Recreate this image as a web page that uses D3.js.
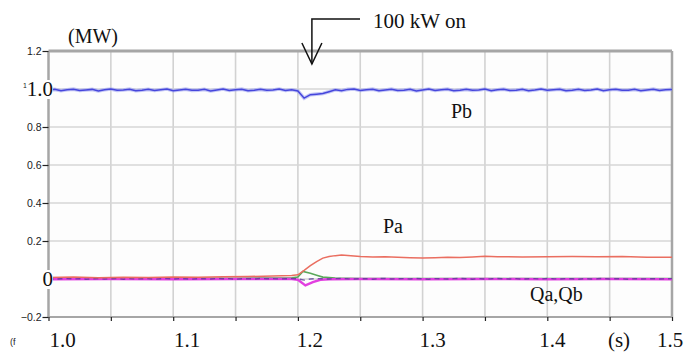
<!DOCTYPE html>
<html>
<head>
<meta charset="utf-8">
<script src="https://cdn.jsdelivr.net/npm/d3@7"></script>
<style>
  html, body { margin: 0; padding: 0; background: #fff; }
  svg { display: block; }
</style>
</head>
<body>
<svg id="chart" width="684" height="354"></svg>
<script>
// Sampling instants (s) for the densely sampled traces
const tSamples = d3.range(101).map(i => +(1 + i * 0.005).toFixed(3));

// Pb (MW), phase b active power, sampled every 5 ms
const pbValues = [
  0.994, 0.998, 0.991, 0.996, 0.999, 0.992, 0.995, 0.998, 0.990, 0.996,
  1.000, 0.993, 0.995, 0.999, 0.991, 0.994, 0.998, 0.992, 0.996, 1.000,
  0.991, 0.995, 0.999, 0.993, 0.994, 0.998, 0.990, 0.995, 1.000, 0.992,
  0.996, 0.999, 0.991, 0.994, 0.998, 0.993, 0.995, 1.000, 0.992, 0.996,
  0.990, 0.952, 0.970, 0.973, 0.976, 0.986, 0.996, 0.991, 0.998, 1.000,
  0.992, 0.996, 0.999, 0.991, 0.995, 0.999, 0.992, 0.994, 0.998, 0.990,
  0.995, 1.000, 0.992, 0.996, 0.999, 0.991, 0.994, 0.998, 0.993, 0.995,
  1.000, 0.991, 0.996, 0.999, 0.992, 0.994, 0.998, 0.991, 0.995, 1.000,
  0.993, 0.996, 0.999, 0.991, 0.994, 0.998, 0.992, 0.995, 1.000, 0.991,
  0.996, 0.999, 0.993, 0.994, 0.998, 0.991, 0.995, 0.999, 0.992, 0.996,
  0.998
];

// Background reactive trace near zero, sampled every 5 ms
const q0Values = [
  0.002, -0.001, 0.001, 0.003, 0.000, 0.002, -0.001, 0.001, 0.002, 0.000,
  0.001, 0.003, -0.001, 0.002, 0.000, 0.001, 0.002, -0.001, 0.001, 0.003,
  0.000, 0.002, 0.001, -0.001, 0.002, 0.001, 0.000, 0.003, 0.001, 0.002,
  -0.001, 0.001, 0.002, 0.000, 0.003, 0.001, 0.002, 0.000, 0.001, 0.002,
  0.001, -0.006, 0.000, 0.002, 0.001, 0.000, 0.002, 0.003, 0.001, 0.000,
  0.002, 0.001, -0.001, 0.002, 0.003, 0.000, 0.001, 0.002, 0.000, 0.003,
  0.001, -0.001, 0.002, 0.001, 0.000, 0.002, 0.003, 0.001, -0.001, 0.002,
  0.000, 0.001, 0.003, 0.001, 0.000, 0.002, -0.001, 0.001, 0.002, 0.000,
  0.003, 0.001, 0.000, 0.002, 0.001, -0.001, 0.002, 0.000, 0.001, 0.003,
  0.000, 0.002, 0.001, -0.001, 0.002, 0.000, 0.001, 0.002, 0.000, 0.001,
  0.002
];

// Pa (MW), phase a active power: time / value pairs
const paTimes  = [1.000, 1.020, 1.040, 1.060, 1.080, 1.100, 1.120, 1.140, 1.160, 1.180, 1.195, 1.200,
                  1.205, 1.210, 1.215, 1.220, 1.225, 1.230, 1.235, 1.240, 1.250, 1.260, 1.270, 1.280,
                  1.290, 1.300, 1.310, 1.320, 1.330, 1.340, 1.350, 1.360, 1.380, 1.400, 1.420, 1.440,
                  1.460, 1.480, 1.500];
const paValues = [0.008, 0.010, 0.007, 0.009, 0.008, 0.010, 0.009, 0.012, 0.013, 0.016, 0.018, 0.022,
                  0.045, 0.070, 0.092, 0.110, 0.118, 0.123, 0.126, 0.124, 0.118, 0.116, 0.117, 0.114,
                  0.112, 0.110, 0.112, 0.114, 0.113, 0.116, 0.120, 0.117, 0.116, 0.117, 0.118, 0.117,
                  0.119, 0.115, 0.114];

// Qa (Mvar): time / value pairs
const qaTimes  = [1.000, 1.050, 1.100, 1.150, 1.195, 1.200, 1.204, 1.210, 1.215, 1.220, 1.230, 1.250,
                  1.300, 1.350, 1.400, 1.450, 1.500];
const qaValues = [0.004, 0.003, 0.005, 0.004, 0.006, 0.010, 0.040, 0.030, 0.020, 0.010, 0.005, 0.003,
                  0.002, 0.003, 0.002, 0.003, 0.002];

// Qb (Mvar): time / value pairs
const qbTimes  = [1.000, 1.050, 1.100, 1.150, 1.195, 1.200, 1.206, 1.212, 1.218, 1.225, 1.250, 1.300,
                  1.350, 1.400, 1.450, 1.500];
const qbValues = [-0.001, 0.000, -0.001, 0.000, 0.000, -0.004, -0.034, -0.016, -0.004, -0.001, 0.000,
                  -0.001, 0.000, -0.001, 0.000, -0.001];

// Axis ticks and labels
const xGridTicks   = [1.00, 1.05, 1.10, 1.15, 1.20, 1.25, 1.30, 1.35, 1.40, 1.45, 1.50];
const xLabelTicks  = [1.0, 1.1, 1.2, 1.3, 1.4, 1.5];
const yGridTicks   = [1.2, 1.0, 0.8, 0.6, 0.4, 0.2, 0.0, -0.2];
const ySmallTicks  = [1.2, 0.8, 0.6, 0.4, 0.2, -0.2];
const yLargeTicks  = [1.0, 0];
const stepTime     = 1.2;

const SERIF = "'Liberation Serif', 'DejaVu Serif', 'Times New Roman', serif";
const SANS = "'Liberation Sans', Arial, sans-serif";

const svg = d3.select("#chart");
const plotL = 48.5, plotR = 672, plotT = 51, plotB = 317;

const x = d3.scaleLinear().domain([1.0, 1.5]).range([plotL, plotR]);
const y = d3.scaleLinear().domain([-0.2, 1.2]).range([plotB, plotT]);

const serifText = (sel, size) => sel.style("font-family", SERIF).attr("font-size", size).attr("fill", "#111");

// Plot background
svg.append("rect")
  .attr("x", plotL).attr("y", plotT)
  .attr("width", plotR - plotL).attr("height", plotB - plotT)
  .attr("fill", "#fdfdfd");

// Grid
const grid = svg.append("g");
grid.selectAll("line.v").data(xGridTicks.slice(1, -1)).join("line")
  .attr("x1", d => x(d)).attr("x2", d => x(d))
  .attr("y1", plotT).attr("y2", plotB)
  .attr("stroke", "#d2d2d2").attr("stroke-width", 1.6);
grid.selectAll("line.h").data(yGridTicks.slice(1, -1)).join("line")
  .attr("x1", plotL).attr("x2", plotR)
  .attr("y1", d => y(d)).attr("y2", d => y(d))
  .attr("stroke", "#d6d6d6").attr("stroke-width", 1.6);

// Frame
const frame = svg.append("g").attr("stroke", "#a6a6a6").attr("fill", "none");
frame.append("line").attr("x1", plotL).attr("x2", plotR).attr("y1", plotT).attr("y2", plotT).attr("stroke-width", 3);
frame.append("line").attr("x1", plotL).attr("x2", plotR).attr("y1", plotB).attr("y2", plotB).attr("stroke-width", 2);
frame.append("line").attr("x1", plotL).attr("x2", plotL).attr("y1", plotT).attr("y2", plotB).attr("stroke-width", 2.5);
frame.append("line").attr("x1", plotR).attr("x2", plotR).attr("y1", plotT).attr("y2", plotB).attr("stroke-width", 2.5);

// Y axis (small labels)
const yAxis = svg.append("g")
  .attr("transform", `translate(${plotL},0)`)
  .call(d3.axisLeft(y).tickValues(ySmallTicks).tickSize(6).tickPadding(1)
        .tickFormat(d => d3.format(".1f")(d)));
yAxis.select(".domain").remove();
yAxis.selectAll(".tick line").attr("stroke", "#222").attr("stroke-width", 1.2);
yAxis.selectAll(".tick text")
  .attr("font-size", 10.5).attr("fill", "#1a1a1a")
  .style("font-family", SANS);

// X axis ticks
const xAxis = svg.append("g")
  .attr("transform", `translate(0,${plotB})`)
  .call(d3.axisBottom(x).tickValues(xGridTicks).tickSize(4).tickFormat(""));
xAxis.select(".domain").remove();
xAxis.selectAll(".tick line").attr("stroke", "#222").attr("stroke-width", 1.2);

// X axis labels (serif)
const xLabelShift = [14, 14, 12, 10, 5, -2];
svg.selectAll("text.xl").data(xLabelTicks).join("text")
  .call(serifText, 21)
  .attr("x", (d, i) => x(d) + xLabelShift[i])
  .attr("y", 347)
  .attr("text-anchor", "middle")
  .text(d => d3.format(".1f")(d));
svg.append("text").call(serifText, 21).attr("x", 619).attr("y", 347)
  .attr("text-anchor", "middle").text("(s)");
svg.append("text").style("font-family", SANS).attr("fill", "#222")
  .attr("x", 10).attr("y", 345).attr("font-size", 9).text("(f");

// Traces
const line = d3.line().x(d => x(d[0])).y(d => y(d[1]));
const zip = (ts, vs) => ts.map((t, i) => [t, vs[i]]);

const plot = svg.append("g");
plot.append("path").datum(zip(qaTimes, qaValues))
  .attr("d", line).attr("fill", "none").attr("stroke", "#5aa85a").attr("stroke-width", 1.6);
plot.append("path").datum(zip(qbTimes, qbValues))
  .attr("d", line).attr("fill", "none").attr("stroke", "#e23fe0").attr("stroke-width", 2.4);
plot.append("path").datum(zip(tSamples, q0Values))
  .attr("d", line).attr("fill", "none").attr("stroke", "#5a3c96")
  .attr("stroke-width", 1.4).attr("stroke-dasharray", "5,4").attr("opacity", 0.8);
plot.append("path").datum(zip(paTimes, paValues))
  .attr("d", line).attr("fill", "none").attr("stroke", "#ea6e60").attr("stroke-width", 1.5);
// Pb with a soft halo
plot.append("path").datum(zip(tSamples, pbValues))
  .attr("d", line).attr("fill", "none").attr("stroke", "#9ea4f2").attr("stroke-width", 3.6).attr("opacity", 0.6);
plot.append("path").datum(zip(tSamples, pbValues))
  .attr("d", line).attr("fill", "none").attr("stroke", "#4646dc").attr("stroke-width", 1.5);

// Large y labels with white backing
svg.append("text").style("font-family", SANS).attr("fill", "#222")
  .attr("x", 23).attr("y", 88).attr("font-size", 7).text("1");
yLargeTicks.forEach(v => {
  const label = v === 0 ? "0" : d3.format(".1f")(v);
  const t = svg.append("text").call(serifText, 21)
    .attr("x", 53).attr("y", y(v) + 7)
    .attr("text-anchor", "end").text(label);
  const bb = t.node().getBBox();
  svg.insert("rect", () => t.node())
    .attr("x", bb.x).attr("y", bb.y + 3).attr("width", bb.width).attr("height", bb.height - 5)
    .attr("fill", "#fff");
});

// Unit label
svg.append("text").call(serifText, 20).attr("x", 68).attr("y", 43).text("(MW)");

// Series labels
svg.append("text").call(serifText, 20).attr("x", 451).attr("y", 118).text("Pb");
svg.append("text").call(serifText, 20).attr("x", 383).attr("y", 233).text("Pa");
svg.append("text").call(serifText, 20).attr("x", 530).attr("y", 301).text("Qa,Qb");

// Load switching annotation
const ax = x(stepTime) + 14;
const ann = svg.append("g").attr("stroke", "#111").attr("fill", "none").attr("stroke-width", 1.5);
ann.append("path").attr("d", `M360,19 H${ax} V64`);
ann.append("path").attr("d", `M${ax - 10},43 L${ax},64 L${ax + 10},43`);
svg.append("text").call(serifText, 21).attr("x", 373).attr("y", 28).text("100 kW on");
</script>
</body>
</html>
